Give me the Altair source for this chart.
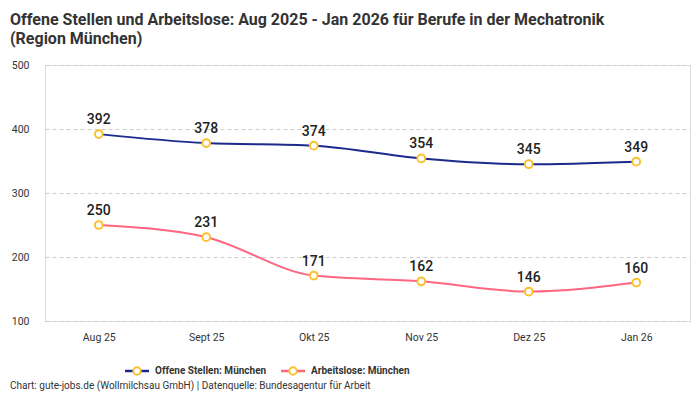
import altair as alt
import pandas as pd

months = ["Aug 25", "Sept 25", "Okt 25", "Nov 25", "Dez 25", "Jan 26"]
offene = [392, 378, 374, 354, 345, 349]
arbeitslose = [250, 231, 171, 162, 146, 160]
series_names = ["Offene Stellen: München", "Arbeitslose: München"]
series_colors = ["#1b2a8c", "#ff6680"]
point_color = "#fbc02d"

rows = []
for m, v in zip(months, offene):
    rows.append({"Monat": m, "Wert": v, "Serie": series_names[0]})
for m, v in zip(months, arbeitslose):
    rows.append({"Monat": m, "Wert": v, "Serie": series_names[1]})
df = pd.DataFrame(rows)

FONT = "Roboto"
W, H = 645, 256

x = alt.X("Monat:N", sort=months, title=None,
          scale=alt.Scale(type="point", padding=0.5),
          axis=alt.Axis(labelAngle=0, labelFontSize=10.5, labelColor="#333333",
                        labelFont=FONT, ticks=False, domain=False, grid=False,
                        labelPadding=11))
y = alt.Y("Wert:Q", title=None,
          scale=alt.Scale(domain=[100, 500], nice=False, zero=False),
          axis=alt.Axis(values=[100, 200, 300, 400, 500], labelFontSize=10.5,
                        labelColor="#333333", labelFont=FONT, ticks=False,
                        domain=False, grid=True, gridDash=[4, 3],
                        gridColor="#cccccc", labelPadding=16))
color = alt.Color("Serie:N", scale=alt.Scale(domain=series_names, range=series_colors),
                  legend=None)

base = alt.Chart(df)
lines = base.mark_line(interpolate="monotone", strokeWidth=2).encode(x=x, y=y, color=color)
points = base.mark_point(filled=True, fill="white", stroke=point_color, strokeWidth=2,
                         size=60, opacity=1).encode(x=x, y=y)
labels = base.mark_text(dy=-14, fontSize=14, font=FONT, fontWeight=500,
                        color="#222222").encode(x=x, y=y, text="Wert:Q")

# legend (manual)
leg_y = 306
leg_items = []
lx = [80, 236]
for i, name in enumerate(series_names):
    d = pd.DataFrame({"name": [name]})
    c = alt.Chart(d)
    leg_items.append(c.mark_rule(color=series_colors[i], strokeWidth=2.5).encode(
        x=alt.value(lx[i]), x2=alt.value(lx[i] + 24), y=alt.value(leg_y)))
    leg_items.append(c.mark_point(filled=True, fill="white", stroke=point_color,
                                  strokeWidth=2, size=55, opacity=1).encode(
        x=alt.value(lx[i] + 12), y=alt.value(leg_y)))
    leg_items.append(c.mark_text(align="left", baseline="middle", fontSize=10,
                                 font=FONT, fontWeight="bold", color="#333333").encode(
        x=alt.value(lx[i] + 30), y=alt.value(leg_y), text="name:N"))

footer = alt.Chart(pd.DataFrame({"t": ["Chart: gute-jobs.de (Wollmilchsau GmbH) | Datenquelle: Bundesagentur für Arbeit"]})).mark_text(
    align="left", baseline="middle", fontSize=10, font=FONT, color="#333333").encode(
    x=alt.value(-35), y=alt.value(321), text="t:N")

chart = alt.layer(lines, points, labels, footer, *leg_items).properties(
    width=W, height=H,
    title=alt.Title(["Offene Stellen und Arbeitslose: Aug 2025 - Jan 2026 für Berufe in der Mechatronik",
                     "(Region München)"],
                    anchor="start", frame="bounds", fontSize=16, font=FONT,
                    fontWeight="bold", color="#333333", offset=13, lineHeight=19),
    autosize=alt.AutoSizeParams(type="none"),
    padding={"left": 37, "top": 57, "right": 2, "bottom": 79},
).configure_view(stroke=None).configure(background="white")

chart.save("out.html", embed_options={"renderer": "svg", "actions": False})
